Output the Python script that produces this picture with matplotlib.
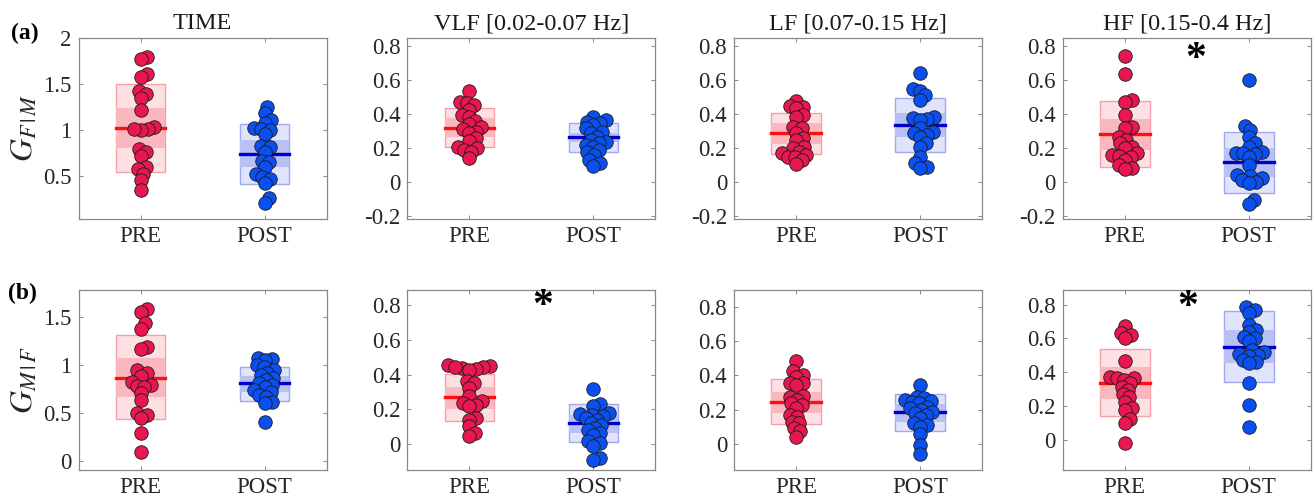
import numpy as np
import matplotlib
matplotlib.use("Agg")
import matplotlib.pyplot as plt
from matplotlib.patches import Rectangle

plt.rcParams['font.family'] = ['Liberation Serif', 'DejaVu Serif']
plt.rcParams['mathtext.fontset'] = 'stix'

# ---------------- data ----------------
groups = ["PRE", "POST"]
titles = ["TIME", "VLF [0.02-0.07 Hz]", "LF [0.07-0.15 Hz]", "HF [0.15-0.4 Hz]"]
row_labels = ["(a)", "(b)"]
ylabels = [r"$G_{F\,\vert\,M}$", r"$G_{M\,\vert\,F}$"]

# Row (a): G_F|M
a_time_pre = [1.79, 1.77, 1.61, 1.57, 1.42, 1.39, 1.34, 1.21, 1.03, 1.01, 1.00, 1.01,
              0.79, 0.76, 0.71, 0.59, 0.57, 0.52, 0.45, 0.34]
a_time_post = [1.25, 1.18, 1.11, 1.07, 1.02, 1.01, 1.00, 0.95, 0.82, 0.81, 0.76, 0.66,
               0.65, 0.59, 0.52, 0.49, 0.47, 0.42, 0.26, 0.20]
a_vlf_pre = [0.536, 0.473, 0.463, 0.453, 0.424, 0.394, 0.384, 0.359, 0.339, 0.325,
             0.309, 0.296, 0.290, 0.256, 0.240, 0.207, 0.197, 0.187, 0.177, 0.138]
a_vlf_post = [0.384, 0.365, 0.355, 0.345, 0.335, 0.315, 0.296, 0.286, 0.266, 0.246,
              0.236, 0.227, 0.217, 0.207, 0.187, 0.173, 0.158, 0.128, 0.108, 0.095]
a_lf_pre = [0.477, 0.447, 0.439, 0.433, 0.394, 0.380, 0.325, 0.315, 0.290, 0.256,
            0.246, 0.207, 0.197, 0.177, 0.167, 0.158, 0.148, 0.144, 0.128, 0.102]
a_lf_post = [0.640, 0.546, 0.536, 0.512, 0.483, 0.384, 0.374, 0.368, 0.364, 0.315,
             0.296, 0.286, 0.276, 0.266, 0.227, 0.207, 0.148, 0.108, 0.089, 0.079]
a_hf_pre = [0.743, 0.636, 0.483, 0.473, 0.394, 0.325, 0.315, 0.266, 0.246, 0.227,
            0.207, 0.197, 0.167, 0.158, 0.152, 0.148, 0.128, 0.099, 0.079, 0.073]
a_hf_post = [0.601, 0.329, 0.305, 0.266, 0.227, 0.207, 0.177, 0.171, 0.167, 0.163,
             0.148, 0.099, 0.039, 0.033, 0.020, 0.010, 0.000, -0.006, -0.108, -0.132]

# Row (b): G_M|F
b_time_pre = [1.585, 1.56, 1.44, 1.38, 1.195, 1.17, 0.951, 0.923, 0.888, 0.829,
              0.794, 0.784, 0.777, 0.714, 0.638, 0.505, 0.481, 0.446, 0.296, 0.098]
b_time_post = [1.073, 1.063, 1.056, 1.003, 0.986, 0.951, 0.923, 0.899, 0.864, 0.847,
               0.812, 0.794, 0.777, 0.742, 0.725, 0.690, 0.672, 0.620, 0.603, 0.411]
b_vlf_pre = [0.455, 0.450, 0.442, 0.436, 0.431, 0.427, 0.446, 0.360, 0.350, 0.322,
             0.274, 0.245, 0.235, 0.226, 0.216, 0.149, 0.140, 0.101, 0.063, 0.044]
b_vlf_post = [0.316, 0.232, 0.220, 0.178, 0.174, 0.168, 0.159, 0.149, 0.140, 0.121,
              0.111, 0.092, 0.082, 0.063, 0.054, 0.015, 0.006, -0.010, -0.080, -0.090]
b_lf_pre = [0.486, 0.428, 0.403, 0.393, 0.358, 0.355, 0.345, 0.281, 0.277, 0.258,
            0.238, 0.229, 0.209, 0.171, 0.161, 0.132, 0.122, 0.093, 0.074, 0.041]
b_lf_post = [0.345, 0.277, 0.267, 0.258, 0.254, 0.248, 0.238, 0.219, 0.209, 0.200,
             0.190, 0.180, 0.171, 0.151, 0.122, 0.112, 0.103, 0.058, -0.004, -0.056]
b_hf_pre = [0.671, 0.635, 0.621, 0.601, 0.466, 0.373, 0.367, 0.363, 0.353, 0.333,
            0.310, 0.294, 0.268, 0.254, 0.224, 0.185, 0.175, 0.125, 0.099, -0.018]
b_hf_post = [0.786, 0.770, 0.750, 0.681, 0.651, 0.641, 0.611, 0.601, 0.582, 0.532,
             0.522, 0.506, 0.502, 0.496, 0.472, 0.463, 0.453, 0.333, 0.204, 0.075]

# box statistics: mean, outer box (SD) lo/hi, inner box (95% CI) lo/hi
# order: [TIME, VLF, LF, HF] x [PRE, POST]
a_mean = [[1.02, 0.74], [0.319, 0.262], [0.286, 0.335], [0.280, 0.114]]
a_sd_lo = [[0.54, 0.41], [0.203, 0.173], [0.164, 0.173], [0.085, -0.065]]
a_sd_hi = [[1.50, 1.06], [0.433, 0.345], [0.404, 0.497], [0.477, 0.296]]
a_ci_lo = [[0.80, 0.59], [0.266, 0.236], [0.223, 0.262], [0.190, 0.030]]
a_ci_hi = [[1.24, 0.89], [0.374, 0.290], [0.345, 0.408], [0.370, 0.201]]

b_mean = [[0.871, 0.812], [0.272, 0.121], [0.246, 0.186], [0.337, 0.552]]
b_sd_lo = [[0.435, 0.627], [0.134, 0.010], [0.116, 0.078], [0.139, 0.343]]
b_sd_hi = [[1.31, 0.986], [0.404, 0.232], [0.380, 0.291], [0.536, 0.760]]
b_ci_lo = [[0.672, 0.725], [0.201, 0.063], [0.184, 0.132], [0.238, 0.453]]
b_ci_hi = [[1.073, 0.888], [0.331, 0.168], [0.306, 0.233], [0.429, 0.647]]

# significance markers: (row, col, x, y)
stars = [(0, 3, 1.57, 0.72), (1, 1, 1.59, 0.79), (1, 3, 1.51, 0.78)]

ylims = [[(0.03, 2.0), (-0.22, 0.85), (-0.22, 0.85), (-0.22, 0.85)],
         [(-0.094, 1.79), (-0.15, 0.89), (-0.15, 0.90), (-0.18, 0.89)]]
yticks = [[[0.5, 1, 1.5, 2], [-0.2, 0, 0.2, 0.4, 0.6, 0.8], [-0.2, 0, 0.2, 0.4, 0.6, 0.8], [-0.2, 0, 0.2, 0.4, 0.6, 0.8]],
          [[0, 0.5, 1, 1.5], [0, 0.2, 0.4, 0.6, 0.8], [0, 0.2, 0.4, 0.6, 0.8], [0, 0.2, 0.4, 0.6, 0.8]]]

rows = [
    [(a_time_pre, a_time_post), (a_vlf_pre, a_vlf_post), (a_lf_pre, a_lf_post), (a_hf_pre, a_hf_post)],
    [(b_time_pre, b_time_post), (b_vlf_pre, b_vlf_post), (b_lf_pre, b_lf_post), (b_hf_pre, b_hf_post)],
]
stats = [(a_mean, a_sd_lo, a_sd_hi, a_ci_lo, a_ci_hi), (b_mean, b_sd_lo, b_sd_hi, b_ci_lo, b_ci_hi)]

# ---------------- styles ----------------
pt_col = ["#E8174F", "#0A50F0"]
mean_col = ["#FF1010", "#0000CC"]
outer_col = ["#FDE0E4", "#E0E4FB"]
inner_col = ["#FBB7BE", "#B8C0F5"]
edge_col = ["#F5A0A8", "#A0A8F0"]

W, H = 1313, 501
fig = plt.figure(figsize=(W / 100, H / 100), dpi=100)
lefts = [78.5, 407.3, 734.0, 1062.7]
axw = 248
row_tb = [(37.7, 219.0), (289.5, 470.0)]

ms_px = 13.5  # marker diameter in pixels
box_hw = 0.2


def swarm(yvals, px_per_unit_y, px_per_unit_x, min_d):
    order = np.argsort(yvals)
    placed = []
    offs = np.zeros(len(yvals))
    cand = [0.0]
    for k in range(1, 60):
        cand += [k * 0.5, -k * 0.5]
    for idx in order:
        yp = yvals[idx] * px_per_unit_y
        for c in cand:
            ok = True
            for (xp2, yp2) in placed:
                if (c - xp2) ** 2 + (yp - yp2) ** 2 < min_d ** 2:
                    ok = False
                    break
            if ok:
                break
        placed.append((c, yp))
        offs[idx] = c / px_per_unit_x
    return offs


for r in range(2):
    top, bot = row_tb[r]
    for c in range(4):
        ax = fig.add_axes([lefts[c] / W, 1 - bot / H, axw / W, (bot - top) / H])
        ylo, yhi = ylims[r][c]
        ax.set_xlim(0.5, 2.5)
        ax.set_ylim(ylo, yhi)
        pxy = (bot - top) / (yhi - ylo)
        pxx = axw / 2.0
        mean, sdl, sdh, cil, cih = stats[r]
        for g in range(2):
            xc = g + 1
            ax.add_patch(Rectangle((xc - box_hw, sdl[c][g]), 2 * box_hw, sdh[c][g] - sdl[c][g],
                                   facecolor=outer_col[g], edgecolor=edge_col[g], lw=1.0, zorder=1))
            ax.add_patch(Rectangle((xc - box_hw, cil[c][g]), 2 * box_hw, cih[c][g] - cil[c][g],
                                   facecolor=inner_col[g], edgecolor='none', lw=0, zorder=2))
            ax.plot([xc - box_hw, xc + box_hw], [mean[c][g]] * 2, color=mean_col[g], lw=2.4, zorder=3)
            yv = np.array(rows[r][c][g], dtype=float)
            offs = swarm(yv, pxy, pxx, 0.5 * ms_px)
            ax.scatter(xc + offs, yv, s=(ms_px * 0.72) ** 2, facecolor=pt_col[g],
                       edgecolor='#1a1a1a', linewidth=0.6, zorder=4)
        ax.set_yticks(yticks[r][c])
        ax.set_yticklabels([f"{t:g}" for t in yticks[r][c]])
        ax.set_xticks([1, 2])
        ax.set_xticklabels(groups)
        ax.tick_params(direction='in', top=True, right=True, length=3, width=0.6,
                       labelsize=16.5, colors='#777777', labelcolor='#262626', pad=5)
        for sp in ax.spines.values():
            sp.set_color('#888888')
            sp.set_linewidth(0.9)
        if r == 0:
            ax.set_title(titles[c], fontsize=17.5, color='#1a1a1a', pad=6)
        if c == 0:
            ax.set_ylabel(ylabels[r], fontsize=23, color='#262626', labelpad=2)
        for (sr, sc, sx, sy) in stars:
            if sr == r and sc == c:
                ax.text(sx, sy, "*", fontsize=30, ha='center', va='center', color='black',
                        fontweight='bold')

fig.text(25 / W, 1 - 33 / H, row_labels[0], fontsize=17, fontweight='bold', ha='center', va='center')
fig.text(22 / W, 1 - 293 / H, row_labels[1], fontsize=17, fontweight='bold', ha='center', va='center')

fig.savefig("out.png", dpi=100)
